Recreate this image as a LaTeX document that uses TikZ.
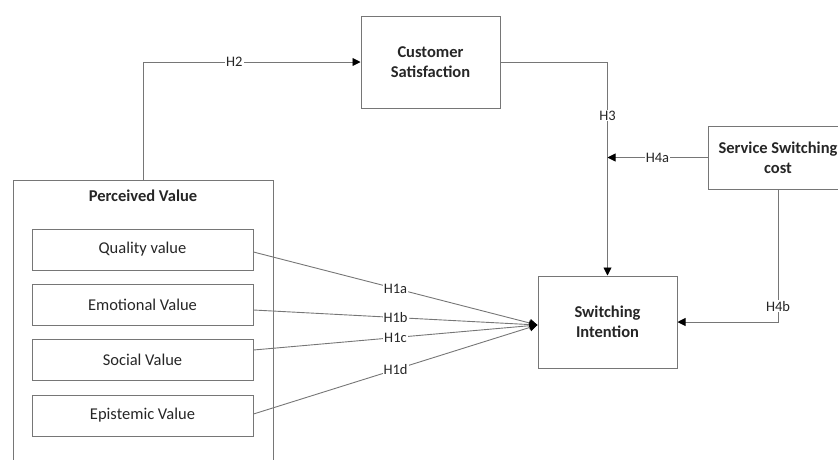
\documentclass[tikz,border=0pt]{standalone}
\usepackage{fontspec}
\setmainfont{Carlito}
\usetikzlibrary{arrows.meta}

\definecolor{linegray}{RGB}{118,118,118}
\definecolor{textgray}{RGB}{38,38,38}

\tikzset{
    box/.style = {draw = linegray, line width = 1pt, align = center, text = textgray,
        font = \fontsize{16.5}{20}\selectfont},
    bigbox/.style = {box, minimum width = 139pt, minimum height = 92pt, font = \fontsize{16.5}{20}\selectfont\bfseries},
    valbox/.style = {box, minimum width = 221pt, minimum height = 41pt},
    link/.style = {draw = linegray, line width = 0.9pt},
    arr/.style = {link, -{Triangle[length = 8pt, width = 8pt, color = black]}},
    hyp/.style = {fill = white, inner sep = 1pt, text = textgray, font = \fontsize{14.5}{16}\selectfont}
}

\begin{document}
\begin{tikzpicture}[x = 1pt, y = -1pt]
    \useasboundingbox (0, 0) rectangle (838, 459);

    \node[bigbox] (cs) at (430.5, 62) {Customer\\Satisfaction};
    \node[bigbox] (si) at (607.5, 322) {Switching\\Intention};
    \node[bigbox, minimum width = 140pt, minimum height = 63pt] (ssc) at (778, 157.5) {Service Switching\\cost};

    \node[box, minimum width = 260pt, minimum height = 290pt] (pv) at (143, 325) {};
    \node[text = textgray, font = \fontsize{16.5}{20}\selectfont\bfseries] (pvt) at (143, 196) {Perceived Value};

    \foreach \n/\t/\y in {qv/Quality value/249.5, ev/Emotional Value/304.5, sv/Social Value/360, epv/Epistemic Value/415.5} {
        \node[valbox] (\n) at (142.5, \y) {\t};
    }

    \draw[arr] (pv.north) |- (cs.west) node[hyp, pos = 0.71]{H2};
    \draw[arr] (cs.east) -| (si.north) node[hyp, pos = 0.625]{H3};

    \coordinate (h4a) at (si.north |- ssc.west);
    \draw[arr] (ssc.west) -- (h4a) node[hyp, pos = 0.5]{H4a};
    \draw[arr] (ssc.south) |- (si.east) node[hyp, pos = 0.44]{H4b};

    \coordinate (h1) at ([yshift = -3pt]si.west);
    \draw[arr] ([yshift = -2.5pt]qv.east) -- (h1) node[hyp, pos = 0.5]{H1a};
    \draw[arr] ([yshift = -5.5pt]ev.east) -- (h1) node[hyp, pos = 0.5]{H1b};
    \draw[arr] ([yshift = 10pt]sv.east) -- (h1) node[hyp, pos = 0.5]{H1c};
    \draw[arr] ([yshift = 1.5pt]epv.east) -- (h1) node[hyp, pos = 0.5]{H1d};
\end{tikzpicture}
\end{document}
